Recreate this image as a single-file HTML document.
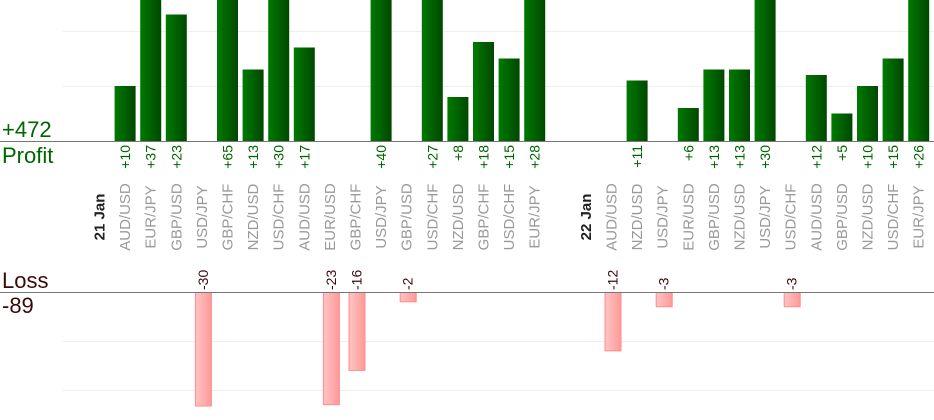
<!DOCTYPE html>
<html><head><meta charset="utf-8"><style>
html,body{margin:0;padding:0;background:#fff;}
svg{display:block;font-family:"Liberation Sans",Arial,sans-serif;}
</style></head><body>
<svg width="934" height="420" viewBox="0 0 934 420" xmlns="http://www.w3.org/2000/svg">
<defs>
<linearGradient id="g" x1="0" x2="1" y1="0" y2="0"><stop offset="0" stop-color="#007a00"/><stop offset="1" stop-color="#004800"/></linearGradient>
<linearGradient id="r" x1="0" x2="1" y1="0" y2="0"><stop offset="0" stop-color="#ffc4c4"/><stop offset="1" stop-color="#ff9999"/></linearGradient>
</defs>
<line x1="63" x2="934" y1="31.5" y2="31.5" stroke="#eee"/>
<line x1="63" x2="934" y1="86.5" y2="86.5" stroke="#eee"/>
<line x1="63" x2="934" y1="341.5" y2="341.5" stroke="#eee"/>
<line x1="63" x2="934" y1="390.5" y2="390.5" stroke="#eee"/>
<g id="c"></g>
<line x1="0" x2="934" y1="141.5" y2="141.5" stroke="#777"/>
<line x1="0" x2="934" y1="292.5" y2="292.5" stroke="#777"/>
<text x="2" y="137" font-size="22" fill="#006400">+472</text>
<text x="2" y="163" font-size="22" fill="#006400">Profit</text>
<text x="2" y="288" font-size="22" fill="#3a0a0a">Loss</text>
<text x="2" y="313" font-size="22" fill="#3a0a0a">-89</text>
</svg>
<script>
var labels=["21 Jan","AUD/USD","EUR/JPY","GBP/USD","USD/JPY","GBP/CHF","NZD/USD","USD/CHF","AUD/USD","EUR/USD","GBP/CHF","USD/JPY","GBP/USD","USD/CHF","NZD/USD","GBP/CHF","USD/CHF","EUR/JPY","","22 Jan","AUD/USD","NZD/USD","USD/JPY","EUR/USD","GBP/USD","NZD/USD","USD/JPY","USD/CHF","AUD/USD","GBP/USD","NZD/USD","USD/CHF","EUR/JPY"];
var p={1:10,2:37,3:23,5:65,6:13,7:30,8:17,11:40,13:27,14:8,15:18,16:15,17:28,21:11,23:6,24:13,25:13,26:30,28:12,29:5,30:10,31:15,32:26};
var l={4:30,9:23,10:16,12:2,20:12,22:3,27:3};
var s="";
for(var i=0;i<labels.length;i++){
 var x=99.5+25.6*i;
 if(labels[i]){
  var d=labels[i].indexOf("Jan")>0;
  s+='<text transform="translate('+(x+5)+',217) rotate(-90)" text-anchor="middle" font-size="15" '+(d?'font-weight="bold" fill="#222"':'fill="#999"')+'>'+labels[i]+'</text>';
 }
 if(p[i]){var h=p[i]*5.5,y=Math.max(0,141-h);
  s+='<rect x="'+(x-10.5)+'" y="'+y+'" width="21" height="'+(141-y)+'" fill="url(#g)"/>';
  s+='<text transform="translate('+(x+5)+',145) rotate(-90)" text-anchor="end" font-size="14" fill="#006400">+'+p[i]+'</text>';}
 if(l[i]){var h=l[i]*4.9,b=Math.min(406,292+h);
  s+='<rect x="'+(x-6.5)+'" y="292.5" width="16" height="'+(b-292.5)+'" fill="url(#r)" stroke="#ff8c8c" stroke-width="1"/>';
  s+='<text transform="translate('+(x+6)+',290) rotate(-90)" text-anchor="start" font-size="14" fill="#3a0a0a">-'+l[i]+'</text>';}
}
document.getElementById("c").innerHTML=s;
</script>
</body></html>
